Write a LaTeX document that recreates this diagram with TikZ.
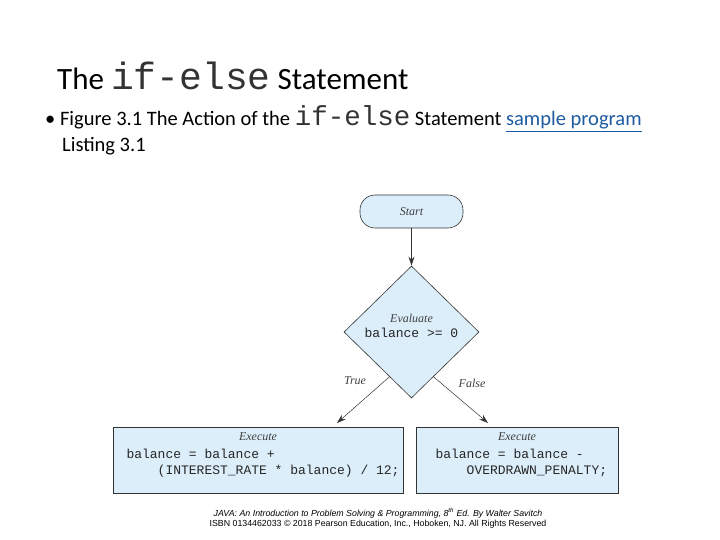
\documentclass[tikz,border=0pt]{standalone}
\usepackage{fontspec}
\setmainfont{Carlito}
\setmonofont{Liberation Mono}
\newfontfamily\arialf{Liberation Sans}
\newfontfamily\serf{Liberation Serif}
\usetikzlibrary{shapes.geometric,arrows.meta,calc}
\definecolor{fillb}{RGB}{220,238,250}
\definecolor{linkb}{RGB}{30,90,160}
\begin{document}
\begin{tikzpicture}[x=1pt,y=-1pt,
  shapebox/.style={draw=black!80,fill=fillb,line width=0.6pt},
  conn/.style={draw=black!80,line width=0.5pt,-{Stealth[length=9pt,width=6pt]}},
  lbl/.style={font=\serf\itshape\fontsize{12}{12}\selectfont,text=black!75},
  code/.style={font=\ttfamily\fontsize{13}{16}\selectfont,text=black!85}]
\useasboundingbox (0,0) rectangle (720,540);
\node[anchor=base west,inner sep=0,font=\fontsize{31}{33}\selectfont] (title) at (57,90)
  {The {\ttfamily\fontsize{38}{38}\selectfont\color{black!80}if-else} Statement};
\node[anchor=base west,inner sep=0,font=\fontsize{20.5}{22}\selectfont] (bul) at (45,126)
  {\textbullet\ Figure 3.1 The Action of the {\ttfamily\fontsize{27.5}{27}\selectfont\color{black!80}if-else} Statement {\color{linkb}\underline{sample program}}};
\node[anchor=base west,inner sep=0,font=\fontsize{20.5}{22}\selectfont] (lst) at (62,152) {Listing 3.1};
\node[shapebox,rounded corners=15pt,minimum width=103pt,minimum height=33pt] (start) at (411.5,211.5) {};
\node[lbl] at (start) {Start};
\node[shapebox,diamond,minimum width=135pt,minimum height=132pt,inner sep=0] (eval) at (411.5,332) {};
\node[lbl] (evl) at (411.5,318) {Evaluate};
\node[code] (evc) at (411.5,333) {balance >= 0};
\node[shapebox,minimum width=290pt,minimum height=66pt] (tbox) at (258,460) {};
\node[lbl] (tl) at (258,437) {Execute};
\node[code,anchor=north west,align=left] at (123,446) {balance = balance +\\\ \ \ \ (INTEREST\_RATE * balance) / 12;};
\node[shapebox,minimum width=202pt,minimum height=66pt] (fbox) at (517,460) {};
\node[lbl] (fl) at (517,437) {Execute};
\node[code,anchor=north west,align=left] at (432,446) {balance = balance -\\\ \ \ \ OVERDRAWN\_PENALTY;};
\draw[conn] (start.south) -- (eval.north);
\coordinate (tp) at (337,423);
\coordinate (fp) at (488,423);
\draw[conn] ($(eval.south west)!0.35!(eval.south)$) -- (tp);
\draw[conn] ($(eval.south east)!0.35!(eval.south)$) -- (fp);
\node[lbl] (tr) at (355,381) {True};
\node[lbl] (fa) at (472,383) {False};
\node[font=\arialf\itshape\fontsize{8.8}{10}\selectfont] (f1) at (378,513) {JAVA: An Introduction to Problem Solving \& Programming, 8\textsuperscript{th} Ed. By Walter Savitch};
\node[font=\arialf\fontsize{8.8}{10}\selectfont] (f2) at (378,524) {ISBN 0134462033 \copyright\ 2018 Pearson Education, Inc., Hoboken, NJ. All Rights Reserved};
\end{tikzpicture}
\end{document}
